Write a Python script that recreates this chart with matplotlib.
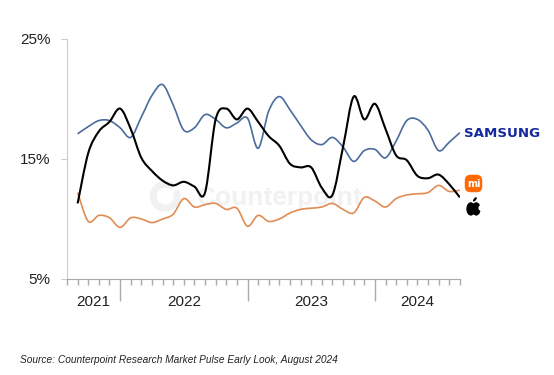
import numpy as np
import matplotlib
matplotlib.use('Agg')
import matplotlib.pyplot as plt
from matplotlib.path import Path
from matplotlib.patches import PathPatch, FancyBboxPatch, Circle, Ellipse, Arc

plt.rcParams['font.family'] = ['Liberation Sans', 'DejaVu Sans']

# Monthly share (%), Aug 2021 .. Aug 2024
months = np.arange(1, 38)
samsung = [17.1, 17.7, 18.2, 18.2, 17.6, 16.8, 18.5, 20.3, 21.2, 19.5, 17.4, 17.6, 18.7,
           18.3, 17.6, 18.0, 18.4, 15.9, 19.0, 20.2, 19.1, 17.8, 16.6, 16.2, 16.8, 16.0,
           14.8, 15.7, 15.8, 15.1, 16.5, 18.2, 18.3, 17.4, 15.7, 16.4, 17.2]
apple = [11.3, 15.5, 17.3, 18.1, 19.2, 17.5, 15.1, 14.0, 13.2, 12.8, 13.1, 12.7, 12.2,
         18.3, 19.2, 18.3, 19.2, 18.1, 16.9, 16.1, 14.6, 14.3, 14.3, 12.6, 12.0, 16.0,
         20.2, 18.3, 19.6, 17.5, 15.3, 14.9, 13.6, 13.4, 13.7, 12.9, 11.8]
xiaomi = [12.2, 9.8, 10.3, 10.1, 9.3, 10.1, 10.0, 9.7, 10.0, 10.4, 11.7, 11.0, 11.2,
          11.3, 10.8, 10.9, 9.4, 10.3, 9.8, 10.0, 10.5, 10.8, 10.9, 11.0, 11.3, 10.8,
          10.5, 11.8, 11.5, 11.0, 11.7, 12.0, 12.1, 12.2, 12.8, 12.3, 12.4]
years = ['2021', '2022', '2023', '2024']
year_centers = [2.5, 11, 23, 33]
year_breaks = [5, 17, 29]


def smooth_path(x, y):
    # Catmull-Rom style smoothed line drawn as cubic Bezier segments
    p = np.column_stack([x, y]).astype(float)
    n = len(p)
    verts = [p[0]]
    codes = [Path.MOVETO]
    for i in range(n - 1):
        p0 = p[i - 1] if i > 0 else p[i]
        p3 = p[i + 2] if i + 2 < n else p[i + 1]
        c1 = p[i] + (p[i + 1] - p0) / 6
        c2 = p[i + 1] - (p3 - p[i]) / 6
        verts += [c1, c2, p[i + 1]]
        codes += [Path.CURVE4] * 3
    return Path(verts, codes)


fig = plt.figure(figsize=(5.54, 3.75), dpi=100)
ax = fig.add_axes([0.121, 0.256, 0.709, 0.640])

# watermark
ax.text(0.542, 0.3375, 'Counterpoint', transform=ax.transAxes, fontsize=19,
        fontweight='bold', color='#f1f1f1', ha='center', va='center', zorder=0)
ax.add_patch(Arc((0.25, 0.345), 24 / 393, 24 / 240, theta1=60, theta2=400,
                 transform=ax.transAxes, ec='#f1f1f1', lw=5, zorder=0))

ax.add_patch(PathPatch(smooth_path(months, xiaomi), fill=False, ec='#E08C52', lw=1.2, zorder=3))
ax.add_patch(PathPatch(smooth_path(months, samsung), fill=False, ec='#4A6B9C', lw=1.2, zorder=3))
ax.add_patch(PathPatch(smooth_path(months, apple), fill=False, ec='black', lw=1.5, zorder=4))

ax.set_xlim(0, 37)
ax.set_ylim(5, 25)
ax.set_yticks([5, 15, 25])
ax.set_yticklabels(['5%', '15%', '25%'], fontsize=11, color='#222222')
ax.set_xticks(year_breaks)
ax.set_xticklabels([])
ax.set_xticks(np.arange(0, 38), minor=True)
ax.tick_params(axis='x', which='major', length=16, color='#aaaaaa', width=1)
ax.tick_params(axis='x', which='minor', length=4, color='#aaaaaa', width=1)
ax.tick_params(axis='y', length=4, color='#cccccc', pad=8)
for s in ['top', 'right']:
    ax.spines[s].set_visible(False)
ax.spines['left'].set_color('#cccccc')
ax.spines['bottom'].set_color('#aaaaaa')

for lab, xc in zip(years, year_centers):
    ax.text(xc, -0.065, lab, transform=ax.get_xaxis_transform(), ha='center', va='top',
            fontsize=11, color='#222222')

# brand labels
fig.text(0.838, 0.645, 'SAMSUNG', fontsize=9.6, fontweight='bold', color='#1428A0',
         family='DejaVu Sans', va='center', ha='left')

mi_ax = fig.add_axes([464 / 554, 1 - 193 / 375, 19 / 554, 19 / 375])
mi_ax.set_xlim(0, 1)
mi_ax.set_ylim(0, 1)
mi_ax.axis('off')
mi_ax.add_patch(FancyBboxPatch((0.04, 0.04), 0.92, 0.92,
                               boxstyle='round,pad=0,rounding_size=0.3',
                               fc='#FF6900', ec='none'))
mi_ax.text(0.5, 0.48, 'mi', color='white', fontsize=7, fontweight='bold',
           ha='center', va='center', family='DejaVu Sans')

ap_ax = fig.add_axes([464 / 554, 1 - 218 / 375, 19 / 554, 22 / 375])
ap_ax.set_xlim(-1, 1)
ap_ax.set_ylim(-1.1, 1.2)
ap_ax.axis('off')
ap_ax.add_patch(Ellipse((-0.28, -0.15), 0.95, 1.4, fc='black'))
ap_ax.add_patch(Ellipse((0.28, -0.15), 0.95, 1.4, fc='black'))
ap_ax.add_patch(Circle((0.85, -0.05), 0.33, fc='white'))
ap_ax.add_patch(Ellipse((0.15, 0.85), 0.25, 0.55, angle=-40, fc='black'))

fig.text(0.036, 0.032, 'Source: Counterpoint Research Market Pulse Early Look, August 2024',
         fontsize=7.3, style='italic', color='#222222')

fig.savefig('out.png', dpi=100)
